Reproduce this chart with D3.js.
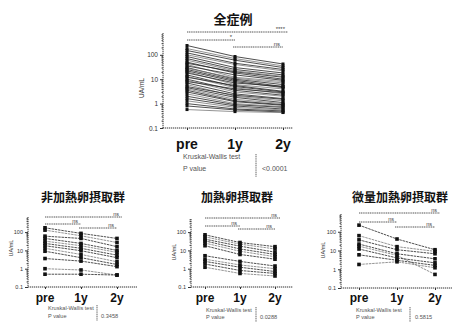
<!DOCTYPE html>
<html><head><meta charset="utf-8">
<script src="https://cdn.jsdelivr.net/npm/d3@7"></script>
<style>body{margin:0;background:#fff}svg{display:block}</style>
</head><body><svg id="c" width="452" height="327"></svg>
<script>
const timepoints = ["pre", "1y", "2y"];
const yTicks = [0.1, 1, 10, 100];
const yTickLabels = ["0.1", "1", "10", "100"];
const yLabel = "UA/mL";

// 全症例
const allPre = [240,180,150,120,100,85,70,60,50,45,40,35,30,28,25,22,20,18,15,13,12,10,9,8,7,6,5,4.5,4,3.5,3,2.5,2,1.6,1.3,1.0,0.8,0.57];
const all1y  = [85,70,60,45,40,30,25,22,18,20,12,15,10,11,9,8,6,7,5,4.5,5.5,3.5,3,4,2.5,2,2.2,1.8,1.5,1.3,1.2,1.0,0.9,0.8,0.7,0.6,0.55,0.47];
const all2y  = [42,35,30,25,22,18,15,13,10,12,8,9,6,7,5,4.5,4,5,3,2.5,3.2,2.2,2,2.8,1.6,1.3,1.5,1.1,1.0,0.9,0.85,0.75,0.7,0.6,0.55,0.5,0.45,0.43];

// 非加熱卵摂取群
const rawPre = [172,128,60,45,32,24,18,13,9,3.6,1.0,0.5];
const raw1y  = [85,63,45,24,18,13,9.6,6,4,2.6,0.85,0.5];
const raw2y  = [45,27,16,10,7.8,5.5,4,2.4,1.7,1.3,0.45,0.45];

// 加熱卵摂取群
const heatPre = [71,55,41,33,25,18,5.1,3.3,2.5,1.8,1.2];
const heat1y  = [27,22,17,12,9,6,2.5,1.6,1.2,0.8,0.55];
const heat2y  = [16,12,8,6,4.5,3.3,1.4,1.0,0.7,0.55,0.4];

// 微量加熱卵摂取群
const tracePre = [225,62,37,22,17,12,5.9,1.8];
const trace1y  = [41,16,11,6.7,5.5,4,3,2.5];
const trace2y  = [11,9,6.7,3.6,0.53,2.2,1.6,1.2];

const panelTitles = ["全症例", "非加熱卵摂取群", "加熱卵摂取群", "微量加熱卵摂取群"];
const sigAll   = ["****", "*", "ns"];
const sigRaw   = ["ns", "ns", "ns"];
const sigHeat  = ["ns", "ns", "ns"];
const sigTrace = ["ns", "ns", "ns"];
const testLabel = "Kruskal-Wallis test";
const pLabel = "P value";
const pValues = ["<0.0001", "0.3458", "0.0288", "0.5815"];

const svg = d3.select("#c");
const FONT = "'Liberation Sans', Arial, sans-serif";
const CJK = "'Noto Sans CJK JP', sans-serif";

const layouts = [
  {ax:163, xs:[187,283], xEnd:293, yb:128, yt:30.4, top:33, title:[233,20], tsize:13,
   br:[32,40,47], xl:149, xlsize:14, tickFont:6.5, ylab:[142,88],
   tbl:{x:183, y1:159, y2:171, vx:256, vy:[154,177], px:262}, r:1.5, big:true, tf:7},
  {ax:28, xs:[45,117], xEnd:137, yb:287, yt:213.8, top:217, title:[83,199], tsize:12,
   br:[217,224,228], xl:302, xlsize:12, tickFont:5.5, ylab:[12,248],
   tbl:{x:48, y1:310, y2:318, vx:97, vy:[305,321], px:101}, r:1.8, tf:5.6},
  {ax:191, xs:[205,275], xEnd:293, yb:287, yt:213.8, top:219, title:[237,199], tsize:12,
   br:[218,226,229], xl:302, xlsize:12, tickFont:5.5, ylab:[175,252],
   tbl:{x:206, y1:312, y2:319, vx:256, vy:[307,322], px:260}, r:1.8, tf:5.6},
  {ax:341, xs:[359,435], xEnd:452, yb:288, yt:213, top:214, title:[400,199], tsize:12,
   br:[213,222,227], xl:302, xlsize:12, tickFont:5.5, ylab:[324,250],
   tbl:{x:356, y1:312, y2:319, vx:410, vy:[307,322], px:415}, r:1.8, tf:5.6}
];
const datasets = [
  [allPre, all1y, all2y], [rawPre, raw1y, raw2y],
  [heatPre, heat1y, heat2y], [tracePre, trace1y, trace2y]
];
const sigs = [sigAll, sigRaw, sigHeat, sigTrace];

layouts.forEach((L, pi) => {
  const g = svg.append("g");
  const x = d3.scalePoint().domain(timepoints).range(L.xs);
  const y = d3.scaleLog().domain([0.1, 1000]).range([L.yb, L.yt]);
  const [pre, v1, v2] = datasets[pi];

  g.append("text").attr("x", L.title[0]).attr("y", L.title[1]).attr("text-anchor", "middle")
    .attr("dominant-baseline", "middle").attr("font-family", CJK).attr("font-weight", "bold")
    .attr("font-size", L.tsize).attr("fill", "#111").text(panelTitles[pi]);

  const minor = [];
  for (let e = -1; e < 3; e++) for (let k = 2; k <= 9; k++) {
    const v = k * Math.pow(10, e); if (y(v) >= L.top) minor.push(v);
  }
  const yAx = g.append("g").attr("transform", `translate(${L.ax},0)`)
    .call(d3.axisLeft(y).tickValues(yTicks).tickFormat((d, i) => yTickLabels[i]).tickSize(3).tickPadding(2));
  yAx.select(".domain").remove();
  yAx.selectAll("text").attr("font-family", FONT).attr("font-size", L.tickFont).attr("fill", "#333");
  yAx.selectAll("line").attr("stroke", "#333");
  const yMin = g.append("g").attr("transform", `translate(${L.ax},0)`)
    .call(d3.axisLeft(y).tickValues(minor).tickFormat("").tickSize(1.5));
  yMin.select(".domain").remove();
  yMin.selectAll("line").attr("stroke", "#555");
  g.append("line").attr("x1", L.ax).attr("x2", L.ax).attr("y1", L.top).attr("y2", L.yb)
    .attr("stroke", "#333").attr("stroke-width", 1).attr("stroke-dasharray", "1.3,0.7");

  g.append("text").attr("transform", `translate(${L.ylab[0]},${L.ylab[1]}) rotate(-90)`)
    .attr("text-anchor", "middle").attr("dominant-baseline", "middle")
    .attr("font-family", FONT).attr("font-size", L.tickFont).attr("fill", "#333").text(yLabel);

  g.append("line").attr("x1", L.ax).attr("x2", L.xEnd).attr("y1", L.yb).attr("y2", L.yb)
    .attr("stroke", "#333").attr("stroke-width", 1).attr("stroke-dasharray", "1.3,0.7");
  const xAx = g.append("g").attr("transform", `translate(0,${L.yb})`)
    .call(d3.axisBottom(x).tickSize(2).tickFormat(""));
  xAx.select(".domain").remove();
  xAx.selectAll("line").attr("stroke", "#333");
  timepoints.forEach(t => {
    g.append("text").attr("x", x(t)).attr("y", L.xl).attr("text-anchor", "middle")
      .attr("font-family", FONT).attr("font-weight", "bold").attr("font-size", L.xlsize)
      .attr("fill", "#111").text(t);
  });

  const line = d3.line().x(d => x(d[0])).y(d => y(d[1]));
  pre.forEach((p, i) => {
    const pts = [["pre", p], ["1y", v1[i]], ["2y", v2[i]]];
    g.append("path").attr("d", line(pts)).attr("fill", "none")
      .attr("stroke", i % 3 === 1 ? "#777" : "#222").attr("stroke-width", L.big ? 0.8 : 0.8)
      .attr("stroke-dasharray", L.big ? null : "2.5,0.8");
    pts.forEach(d => {
      g.append("rect").attr("x", x(d[0]) - L.r).attr("y", y(d[1]) - L.r)
        .attr("width", 2 * L.r).attr("height", 2 * L.r).attr("fill", "#111");
    });
  });

  const pairs = [["pre", "2y"], ["pre", "1y"], ["1y", "2y"]];
  pairs.forEach((pr, k) => {
    const yy = L.br[k];
    const xa = x(pr[0]) - (k === 2 ? 2 : 0), xb = x(pr[1]) + (k === 0 ? 5 : 0);
    g.append("line").attr("x1", xa).attr("x2", xb).attr("y1", yy).attr("y2", yy)
      .attr("stroke", "#555").attr("stroke-width", 1).attr("stroke-dasharray", "1.2,0.6");
    g.append("text").attr("x", xb - 3).attr("y", yy - 1.5).attr("text-anchor", "end")
      .attr("font-family", FONT).attr("font-size", L.big ? 6 : 5.5).attr("fill", "#444")
      .text(sigs[pi][k]);
  });

  const T = L.tbl;
  g.append("text").attr("x", T.x).attr("y", T.y1).attr("font-family", FONT)
    .attr("font-size", L.tf).attr("fill", "#555").text(testLabel);
  g.append("text").attr("x", T.x).attr("y", T.y2).attr("font-family", FONT)
    .attr("font-size", L.tf).attr("fill", "#555").text(pLabel);
  g.append("line").attr("x1", T.vx).attr("x2", T.vx).attr("y1", T.vy[0]).attr("y2", T.vy[1])
    .attr("stroke", "#666").attr("stroke-width", 1).attr("stroke-dasharray", "1.2,0.6");
  g.append("text").attr("x", T.px).attr("y", T.y2).attr("font-family", FONT)
    .attr("font-size", L.tf).attr("fill", "#555").text(pValues[pi]);
});
</script></body></html>
